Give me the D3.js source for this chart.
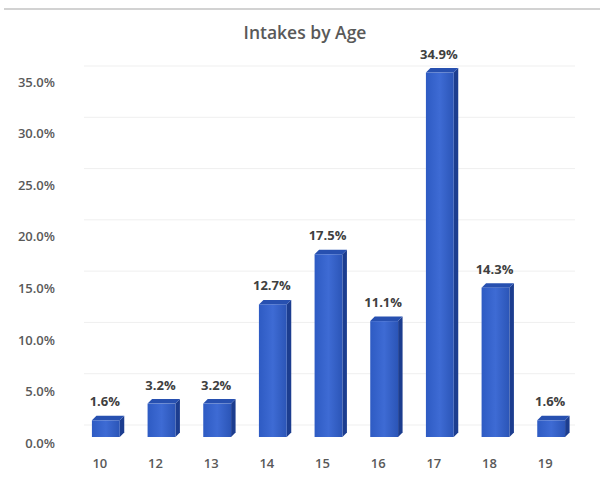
<!DOCTYPE html>
<html><head><meta charset="utf-8">
<script src="https://cdn.jsdelivr.net/npm/d3@7"></script>
<style>body{margin:0;background:#fff}svg{display:block}</style>
</head><body>
<svg id="c" width="600" height="479"></svg>
<script>
const categories = ["10","12","13","14","15","16","17","18","19"];
const values = [1.6, 3.2, 3.2, 12.7, 17.5, 11.1, 34.9, 14.3, 1.6];
const yTicks = [0, 5, 10, 15, 20, 25, 30, 35];
const title = "Intakes by Age";

const svg = d3.select("#c");
const font = "Open Sans, Lato, sans-serif";

// top border line
svg.append("line").attr("x1",4).attr("x2",600).attr("y1",9).attr("y2",9)
  .attr("stroke","#a6a6a6").attr("stroke-width",1.2);

const x = d3.scaleBand().domain(categories).range([78, 579]).paddingInner(0.5).paddingOuter(0.25);
const y = d3.scaleLinear().domain([0, 35]).range([437, 71.5]);      // front plane (bars)
const yLab = d3.scaleLinear().domain([0, 35]).range([443, 82]);     // axis labels
const yBack = d3.scaleLinear().domain([0, 35]).range([425, 66]);    // back wall gridlines
const dx = 4.5, dy = 4.5;

// gridlines (very faint, back wall)
svg.append("g").selectAll("line").data(yTicks).join("line")
  .attr("x1", 84).attr("x2", 575)
  .attr("y1", d => yBack(d)).attr("y2", d => yBack(d))
  .attr("stroke", "#efefef").attr("stroke-width", 1);

// y axis labels
const yAxis = d3.axisLeft(yLab).tickValues(yTicks).tickSize(0).tickPadding(0)
  .tickFormat(d => d3.format(".1f")(d) + "%");
const ga = svg.append("g").attr("transform", "translate(55,0)").call(yAxis);
ga.select(".domain").remove();
ga.selectAll("text").attr("font-family", font).attr("font-size", 13).attr("font-weight", 600)
  .attr("fill", "#595959");

// x axis labels
const xAxis = d3.axisBottom(x).tickSize(0).tickPadding(0);
const gx = svg.append("g").attr("transform", "translate(-6,463)").call(xAxis);
gx.select(".domain").remove();
gx.selectAll("text").attr("font-family", font).attr("font-size", 13).attr("font-weight", 600)
  .attr("fill", "#595959").attr("dy", "0.35em");

// gradient
const defs = svg.append("defs");
const g1 = defs.append("linearGradient").attr("id","front").attr("x1","0").attr("x2","1");
g1.append("stop").attr("offset","0").attr("stop-color","#2e5bc3");
g1.append("stop").attr("offset","0.5").attr("stop-color","#3e6bd4");
g1.append("stop").attr("offset","1").attr("stop-color","#2b55b7");

const bars = svg.append("g").selectAll("g").data(values).join("g");
bars.append("path")
  .attr("d", (d,i) => {
    const x0 = x(categories[i]) + x.bandwidth(), t = y(d), b = y(0);
    return `M${x0},${t}L${x0+dx},${t-dy}L${x0+dx},${b-dy}L${x0},${b}Z`;
  }).attr("fill", "#1c3d8f");
bars.append("path")
  .attr("d", (d,i) => {
    const x0 = x(categories[i]), x1 = x0 + x.bandwidth(), t = y(d);
    return `M${x0},${t}L${x0+dx},${t-dy}L${x1+dx},${t-dy}L${x1},${t}Z`;
  }).attr("fill", "#2750b0");
bars.append("rect")
  .attr("x", (d,i) => x(categories[i])).attr("width", x.bandwidth())
  .attr("y", d => y(d)).attr("height", d => y(0) - y(d))
  .attr("fill", "url(#front)");

// value labels
svg.append("g").selectAll("text").data(values).join("text")
  .attr("x", (d,i) => x(categories[i]) + x.bandwidth()/2 - 1)
  .attr("y", d => y(d) - 14)
  .attr("text-anchor", "middle")
  .attr("font-family", font).attr("font-size", 13).attr("font-weight", 700)
  .attr("fill", "#404040")
  .text(d => d3.format(".1f")(d) + "%");

svg.append("text").attr("x", 305).attr("y", 39).attr("text-anchor", "middle")
  .attr("font-family", font).attr("font-size", 17.5).attr("font-weight", 600)
  .attr("fill", "#595959").text(title);
</script>
</body></html>
